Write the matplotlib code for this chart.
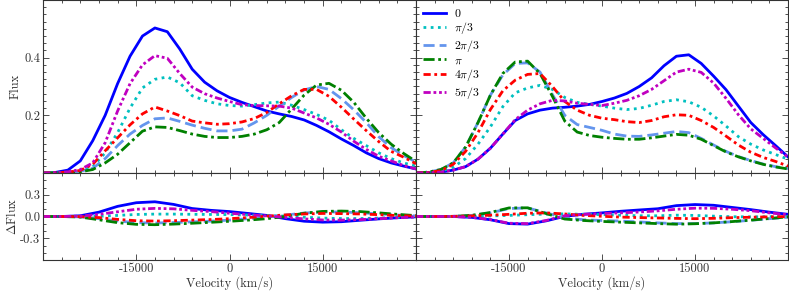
import matplotlib
matplotlib.use("Agg")
import matplotlib.pyplot as plt
from matplotlib.ticker import MultipleLocator

plt.rcParams['font.family'] = 'serif'
plt.rcParams['font.serif'] = ['cmr10']
plt.rcParams['mathtext.fontset'] = 'cm'
plt.rcParams['axes.unicode_minus'] = False
plt.rcParams['axes.formatter.use_mathtext'] = True

# velocity grids (km/s)
vel = [-30000, -28000, -26000, -24000, -22000, -20000, -18000, -16000, -14000, -12000,
       -10000, -8000, -6000, -4000, -2000, 0, 2000, 4000, 6000, 8000, 10000,
       12000, 14000, 16000, 18000, 20000, 22000, 24000, 26000, 28000, 30000]
vel_d = [-30000, -27000, -24000, -21000, -18000, -15000, -12000, -9000, -6000, -3000, 0,
         3000, 6000, 9000, 12000, 15000, 18000, 21000, 24000, 27000, 30000]

labels = ['$0$', r'$\pi/3$', r'$2\pi/3$', r'$\pi$', r'$4\pi/3$', r'$5\pi/3$']

# left panel, flux
flux_l_0 = [0.0, 0.002, 0.01, 0.042, 0.112, 0.2, 0.31, 0.405, 0.475, 0.503, 0.49, 0.43, 0.36, 0.315,
            0.285, 0.262, 0.245, 0.23, 0.215, 0.205, 0.196, 0.184, 0.165, 0.143, 0.118, 0.095, 0.07,
            0.05, 0.035, 0.024, 0.014]
flux_l_1 = [0.0, 0.001, 0.002, 0.006, 0.022, 0.07, 0.14, 0.225, 0.295, 0.325, 0.333, 0.313, 0.268, 0.252,
            0.24, 0.234, 0.232, 0.237, 0.243, 0.246, 0.235, 0.22, 0.203, 0.183, 0.15, 0.12, 0.095,
            0.07, 0.05, 0.035, 0.024]
flux_l_2 = [0.0, 0.001, 0.002, 0.006, 0.016, 0.05, 0.095, 0.135, 0.165, 0.188, 0.191, 0.179, 0.166, 0.155,
            0.146, 0.146, 0.152, 0.174, 0.2, 0.232, 0.262, 0.288, 0.3, 0.29, 0.258, 0.219, 0.175,
            0.126, 0.088, 0.061, 0.038]
flux_l_3 = [0.0, 0.001, 0.002, 0.004, 0.012, 0.035, 0.065, 0.105, 0.145, 0.16, 0.158, 0.147, 0.135, 0.127,
            0.123, 0.123, 0.127, 0.135, 0.15, 0.175, 0.222, 0.27, 0.305, 0.311, 0.287, 0.245, 0.19,
            0.14, 0.1, 0.068, 0.04]
flux_l_4 = [0.0, 0.001, 0.003, 0.009, 0.03, 0.077, 0.122, 0.167, 0.205, 0.229, 0.215, 0.199, 0.18, 0.174,
            0.169, 0.171, 0.177, 0.189, 0.21, 0.24, 0.268, 0.29, 0.29, 0.266, 0.228, 0.187, 0.147,
            0.109, 0.075, 0.055, 0.032]
flux_l_5 = [0.0, 0.001, 0.004, 0.012, 0.035, 0.105, 0.215, 0.31, 0.375, 0.407, 0.398, 0.345, 0.298, 0.275,
            0.26, 0.248, 0.237, 0.234, 0.233, 0.232, 0.225, 0.208, 0.191, 0.169, 0.142, 0.11, 0.082,
            0.058, 0.042, 0.026, 0.014]

# right panel, flux
flux_r_0 = [0.0, 0.001, 0.003, 0.01, 0.022, 0.048, 0.086, 0.135, 0.182, 0.205, 0.218, 0.225, 0.228, 0.232,
            0.238, 0.248, 0.26, 0.276, 0.3, 0.33, 0.372, 0.405, 0.41, 0.38, 0.336, 0.289, 0.232,
            0.175, 0.133, 0.095, 0.056]
flux_r_1 = [0.0, 0.002, 0.006, 0.02, 0.05, 0.1, 0.16, 0.23, 0.278, 0.295, 0.304, 0.29, 0.262, 0.245,
            0.238, 0.232, 0.225, 0.22, 0.224, 0.235, 0.248, 0.254, 0.247, 0.228, 0.198, 0.163, 0.126,
            0.1, 0.08, 0.064, 0.048]
flux_r_2 = [0.0, 0.003, 0.012, 0.035, 0.09, 0.175, 0.27, 0.34, 0.38, 0.382, 0.35, 0.272, 0.2, 0.168,
            0.158, 0.148, 0.135, 0.128, 0.127, 0.132, 0.138, 0.144, 0.14, 0.12, 0.097, 0.075, 0.057,
            0.043, 0.031, 0.022, 0.015]
flux_r_3 = [0.0, 0.003, 0.012, 0.035, 0.09, 0.175, 0.27, 0.345, 0.385, 0.388, 0.345, 0.266, 0.18, 0.142,
            0.13, 0.124, 0.12, 0.117, 0.117, 0.122, 0.128, 0.134, 0.131, 0.117, 0.095, 0.073, 0.056,
            0.042, 0.03, 0.021, 0.014]
flux_r_4 = [0.0, 0.002, 0.008, 0.03, 0.075, 0.14, 0.22, 0.285, 0.322, 0.342, 0.345, 0.3, 0.248, 0.218,
            0.2, 0.19, 0.185, 0.178, 0.175, 0.182, 0.195, 0.202, 0.2, 0.182, 0.158, 0.128, 0.097,
            0.072, 0.054, 0.04, 0.024]
flux_r_5 = [0.0, 0.001, 0.003, 0.01, 0.022, 0.048, 0.086, 0.135, 0.185, 0.218, 0.24, 0.252, 0.25, 0.242,
            0.238, 0.234, 0.242, 0.252, 0.268, 0.29, 0.32, 0.35, 0.36, 0.349, 0.312, 0.259, 0.202,
            0.153, 0.12, 0.087, 0.055]

# left panel, delta flux
dflux_l_0 = [0, 0, 0.01, 0.06, 0.14, 0.19, 0.203, 0.167, 0.11, 0.085, 0.068, 0.042, 0.015, -0.03,
             -0.065, -0.078, -0.072, -0.052, -0.033, -0.017, -0.005]
dflux_l_1 = [0, 0, 0, 0.003, 0.015, 0.028, 0.033, 0.033, 0.03, 0.028, 0.026, 0.02, 0.014, 0.005,
             -0.01, -0.022, -0.028, -0.028, -0.022, -0.012, -0.005]
dflux_l_2 = [0, 0, -0.005, -0.03, -0.062, -0.085, -0.09, -0.083, -0.074, -0.064, -0.05, -0.03, -0.01,
             0.02, 0.048, 0.063, 0.062, 0.052, 0.036, 0.02, 0.008]
dflux_l_3 = [0, 0, -0.008, -0.045, -0.085, -0.108, -0.113, -0.105, -0.093, -0.08, -0.066, -0.05, -0.03,
             0.0, 0.045, 0.07, 0.075, 0.068, 0.05, 0.03, 0.012]
dflux_l_4 = [0, 0, -0.002, -0.015, -0.04, -0.058, -0.063, -0.058, -0.05, -0.042, -0.03, -0.015, 0.005,
             0.022, 0.035, 0.042, 0.04, 0.035, 0.025, 0.013, 0.005]
dflux_l_5 = [0, 0, 0.005, 0.03, 0.065, 0.1, 0.112, 0.106, 0.085, 0.068, 0.045, 0.025, 0.008, -0.012,
             -0.033, -0.048, -0.05, -0.043, -0.03, -0.017, -0.006]

# right panel, delta flux
dflux_r_0 = [0, 0, 0, -0.012, -0.045, -0.098, -0.105, -0.06, 0.003, 0.031, 0.05, 0.072, 0.09, 0.107,
             0.15, 0.165, 0.155, 0.125, 0.095, 0.06, 0.03]
dflux_r_1 = [0, 0, 0, 0.002, 0.008, 0.015, 0.025, 0.033, 0.036, 0.03, 0.026, 0.018, 0.01, 0.01,
             0.018, 0.015, 0.005, -0.003, -0.005, -0.003, 0]
dflux_r_2 = [0, 0, 0.002, 0.015, 0.05, 0.11, 0.118, 0.05, -0.02, -0.045, -0.055, -0.063, -0.075, -0.088,
             -0.098, -0.098, -0.088, -0.072, -0.052, -0.03, -0.01]
dflux_r_3 = [0, 0, 0.002, 0.016, 0.055, 0.118, 0.12, 0.04, -0.035, -0.055, -0.068, -0.078, -0.088,
             -0.098, -0.106, -0.1, -0.088, -0.07, -0.05, -0.028, -0.005]
dflux_r_4 = [0, 0, 0.002, 0.008, 0.018, 0.03, 0.045, 0.05, 0.035, 0.015, 0.003, -0.008, -0.015, -0.02,
             -0.026, -0.03, -0.025, -0.016, -0.01, -0.005, 0]
dflux_r_5 = [0, 0, 0, -0.012, -0.042, -0.093, -0.098, -0.055, 0.01, 0.03, 0.04, 0.05, 0.062, 0.078,
             0.1, 0.115, 0.113, 0.1, 0.08, 0.05, 0.025]

xtick_vals = [-15000, 0, 15000]
xtick_labels = ['-15000', '0', '15000']

colors = ['#0000ff', '#00c0c0', '#6495ed', '#008000', '#ff0000', '#c000c0']
styles = ['-', (0, (1, 1.6)), (0, (4, 1.8)), (0, (4, 1.3, 1, 1.3)),
          (0, (2.6, 1.3, 1, 1.3)), (0, (2.6, 1, 1, 1, 1, 1))]

fc = '0.2'
fig = plt.figure(figsize=(7.89, 2.96), dpi=100)
W, H = 789, 296
ax_tl = fig.add_axes([43 / W, 123 / H, 373 / W, 173 / H])
ax_bl = fig.add_axes([43 / W, 36 / H, 373 / W, 87 / H])
ax_tr = fig.add_axes([416 / W, 123 / H, 372 / W, 173 / H])
ax_br = fig.add_axes([416 / W, 36 / H, 372 / W, 87 / H])

top_l = [flux_l_0, flux_l_1, flux_l_2, flux_l_3, flux_l_4, flux_l_5]
top_r = [flux_r_0, flux_r_1, flux_r_2, flux_r_3, flux_r_4, flux_r_5]
bot_l = [dflux_l_0, dflux_l_1, dflux_l_2, dflux_l_3, dflux_l_4, dflux_l_5]
bot_r = [dflux_r_0, dflux_r_1, dflux_r_2, dflux_r_3, dflux_r_4, dflux_r_5]

for i in range(6):
    ax_tl.plot(vel, top_l[i], color=colors[i], linestyle=styles[i], lw=2)
    ax_tr.plot(vel, top_r[i], color=colors[i], linestyle=styles[i], lw=2, label=labels[i])
    ax_bl.plot(vel_d, bot_l[i], color=colors[i], linestyle=styles[i], lw=2)
    ax_br.plot(vel_d, bot_r[i], color=colors[i], linestyle=styles[i], lw=2)

for ax in [ax_tl, ax_tr, ax_bl, ax_br]:
    ax.set_xlim(-30000, 30000)
    ax.set_xticks(xtick_vals)
    ax.xaxis.set_minor_locator(MultipleLocator(3000))
    ax.tick_params(which='both', direction='in', top=True, right=True, colors=fc,
                   labelsize=9, width=0.6)
    ax.tick_params(which='major', length=4, pad=2)
    ax.tick_params(which='minor', length=2)
    for s in ax.spines.values():
        s.set_color(fc)
        s.set_linewidth(0.8)

for ax in [ax_tl, ax_tr]:
    ax.set_ylim(0, 0.6)
    ax.set_yticks([0.2, 0.4])
    ax.yaxis.set_minor_locator(MultipleLocator(0.025))
    ax.set_xticklabels([])

for ax in [ax_bl, ax_br]:
    ax.set_ylim(-0.6, 0.6)
    ax.set_yticks([-0.3, 0.0, 0.3])
    ax.yaxis.set_minor_locator(MultipleLocator(0.1))
    ax.set_xticklabels(xtick_labels)
    ax.set_xlabel('Velocity (km/s)', fontsize=9, color=fc, labelpad=1)

ax_tl.set_yticklabels(['0.2', '0.4'])
ax_bl.set_yticklabels(['-0.3', '0.0', '0.3'])
ax_tr.set_yticklabels([])
ax_br.set_yticklabels([])

ax_tl.set_ylabel('Flux', fontsize=9, color=fc)
ax_bl.set_ylabel(r'$\Delta$Flux', fontsize=9, color=fc)
ax_tl.yaxis.set_label_coords(-0.058, 0.5)
ax_bl.yaxis.set_label_coords(-0.064, 0.5)

ax_tr.legend(loc='upper left', frameon=False, fontsize=8.5, handlelength=1.9,
             handletextpad=0.7, labelspacing=0.12, borderaxespad=0.3, borderpad=0.3)

fig.savefig('out.png', dpi=100)
